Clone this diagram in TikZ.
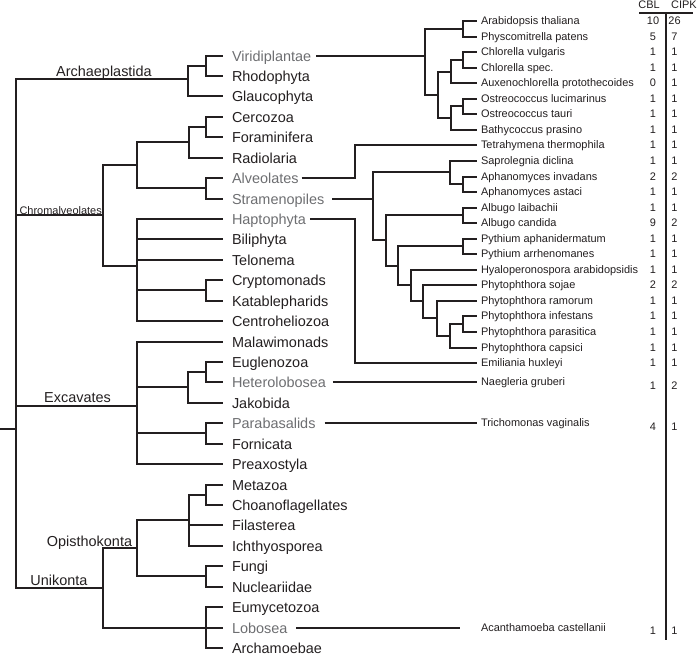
\documentclass[tikz,border=0pt]{standalone}
\usepackage{fontspec}
\setmainfont{Liberation Sans}
\definecolor{ink}{HTML}{231F20}
\definecolor{labgray}{HTML}{6D6E71}
\tikzset{
  big/.style={font=\fontsize{14.5}{17}\selectfont, inner sep=0pt, outer sep=0pt, text height=10.4pt, text depth=0pt, anchor=west, text=ink},
  sp/.style={font=\fontsize{11}{13}\selectfont, inner sep=0pt, outer sep=0pt, text height=7.9pt, text depth=0pt, anchor=west, text=ink},
  num/.style={sp, anchor=center},
  clade/.style={font=\fontsize{14.5}{17}\selectfont, inner sep=0pt, outer sep=0pt, anchor=base, text=ink},
  br/.style={line width=2.7bp, draw=ink},
  brr/.style={line width=2.1bp, draw=ink},
}
\begin{document}
\begin{tikzpicture}[x=1bp,y=-1bp]
\useasboundingbox (0,0) rectangle (697,659);

% ---- left leaf labels
\foreach \n/\t/\i/\c in {
 viri/Viridiplantae/0/labgray, rhodo/Rhodophyta/1/ink, glauco/Glaucophyta/2/ink,
 cerco/Cercozoa/3/ink, foram/Foraminifera/4/ink, radio/Radiolaria/5/ink,
 alveo/Alveolates/6/labgray, stram/Stramenopiles/7/labgray, hapto/Haptophyta/8/labgray,
 bili/Biliphyta/9/ink, telo/Telonema/10/ink, crypto/Cryptomonads/11/ink,
 kata/Katablepharids/12/ink, centro/Centroheliozoa/13/ink, malaw/Malawimonads/14/ink,
 eugl/Euglenozoa/15/ink, hetero/Heterolobosea/16/labgray, jako/Jakobida/17/ink,
 parab/Parabasalids/18/labgray, fornic/Fornicata/19/ink, preax/Preaxostyla/20/ink,
 meta/Metazoa/21/ink, choano/Choanoflagellates/22/ink, filas/Filasterea/23/ink,
 ichthy/Ichthyosporea/24/ink, fungi/Fungi/25/ink, nucle/Nucleariidae/26/ink,
 eumy/Eumycetozoa/27/ink, lobo/Lobosea/28/labgray, archam/Archamoebae/29/ink}
 { \node[big, text=\c] (\n) at (232,{round(55.5+20.43*\i)}) {\t}; }

% ---- clade labels
\node[clade] (archlab) at (104,77) {Archaeplastida};
\node[font=\fontsize{11}{13}\selectfont, inner sep=0pt, anchor=base east, text=ink] (chromlab) at (102,214) {Chromalveolates};
\node[clade] (excavlab) at (77.5,402) {Excavates};
\node[clade] (opilab) at (89.5,546.5) {Opisthokonta};
\node[clade] (unilab) at (59,585) {Unikonta};

% ---- left internal nodes
\coordinate (R0) at (0,429);
\coordinate (R) at (16,429);
\coordinate (A) at (188,79);
\coordinate (A1) at (206,66);
\coordinate (C) at (103,215);
\coordinate (C1) at (137,165);
\coordinate (C11) at (189,142);
\coordinate (C111) at (206,127);
\coordinate (C12) at (206,188);
\coordinate (C2) at (137,266);
\coordinate (C21) at (206,290);
\coordinate (E) at (137,406);
\coordinate (E1) at (188,387);
\coordinate (E11) at (206,372);
\coordinate (E2) at (206,433);
\coordinate (U) at (103,588);
\coordinate (O) at (137,548);
\coordinate (O1) at (189,520);
\coordinate (O11) at (206,495);
\coordinate (O2) at (206,576);
\coordinate (U2) at (206,628);

\draw[br] (R0) -- (R);
\foreach \p/\c in {R/A, R/C, R/E, R/U, A/A1, C/C1, C/C2, C1/C11, C1/C12, C11/C111,
  C2/C21, E/E1, E/E2, E1/E11, U/O, U/U2, O/O1, O/O2, O1/O11}
  { \draw[br] (\p) |- (\c); }
\foreach \p/\c in {A1/viri, A1/rhodo, A/glauco, C111/cerco, C111/foram, C11/radio,
  C12/alveo, C12/stram, C2/hapto, C2/bili, C2/telo, C21/crypto, C21/kata, C2/centro,
  E/malaw, E11/eugl, E11/hetero, E1/jako, E2/parab, E2/fornic, E/preax,
  O11/meta, O11/choano, O1/filas, O1/ichthy, O2/fungi, O2/nucle,
  U2/eumy, U2/lobo, U2/archam}
  { \draw[br, shorten >=9bp] (\p) |- (\c.west); }

% ---- species and counts
\foreach \n/\t/\y/\a/\b in {
 ath/Arabidopsis thaliana/21/10/26, ppa/Physcomitrella patens/37/5/7,
 cvu/Chlorella vulgaris/52/1/1, csp/Chlorella spec./68/1/1,
 apr/Auxenochlorella protothecoides/83/0/1, olu/Ostreococcus lucimarinus/99/1/1,
 ota/Ostreococcus tauri/114/1/1, bpr/Bathycoccus prasino/130/1/1,
 tth/Tetrahymena thermophila/145/1/1, sdi/Saprolegnia diclina/161/1/1,
 ain/Aphanomyces invadans/177/2/2, aas/Aphanomyces astaci/192/1/1,
 ala/Albugo laibachii/208/1/1, aca/Albugo candida/223/9/2,
 pap/Pythium aphanidermatum/239/1/1, par/Pythium arrhenomanes/254/1/1,
 hya/Hyaloperonospora arabidopsidis/270/1/1, pso/Phytophthora sojae/285/2/2,
 pra/Phytophthora ramorum/301/1/1, pin/Phytophthora infestans/316/1/1,
 ppr/Phytophthora parasitica/332/1/1, pca/Phytophthora capsici/348/1/1,
 ehu/Emiliania huxleyi/363/1/1}
 { \node[sp] (\n) at (481,\y) {\t};
   \node[num] (\n-cbl) at (653,\y) {\a};
   \node[num] (\n-cipk) at (674.5,\y) {\b}; }

\node[sp] (ngr) at (481,382) {Naegleria gruberi};
\node[num] (ngr-cbl) at (653,386) {1};
\node[num] (ngr-cipk) at (674.5,386) {2};
\node[sp] (tva) at (481,423) {Trichomonas vaginalis};
\node[num] (tva-cbl) at (653,426.5) {4};
\node[num] (tva-cipk) at (674.5,426.5) {1};
\node[sp] (acas) at (481,628) {Acanthamoeba castellanii};
\node[num] (acas-cbl) at (653,631) {1};
\node[num] (acas-cipk) at (674.5,631) {1};

% ---- header
\node[num] (cblh) at (649,5) {CBL};
\node[num] (cipkh) at (684,5) {CIPK};
\coordinate (ulL) at (639,13);
\coordinate (ulR) at (693,13);
\coordinate (sepT) at (666,13);
\coordinate (sepB) at (666,640);
\draw[ink, line width=1.7bp] (ulL) -- (ulR);
\draw[ink, line width=2.3bp] (sepT) -- (sepB);

% ---- right internal nodes
\coordinate (V) at (425,56);
\coordinate (V1) at (463,29);
\coordinate (V2) at (438,95);
\coordinate (V21) at (451,72);
\coordinate (V211) at (463,60);
\coordinate (V22) at (451,118);
\coordinate (V221) at (463,106);
\coordinate (AL) at (355,178);
\coordinate (F) at (373,199);
\coordinate (G) at (450,172);
\coordinate (G1) at (463,184);
\coordinate (H) at (386,240);
\coordinate (H1) at (463,215);
\coordinate (I) at (398,266);
\coordinate (I1) at (463,246);
\coordinate (J) at (411,285);
\coordinate (K) at (423,301);
\coordinate (Lk) at (437,318);
\coordinate (M) at (450,336);
\coordinate (M1) at (463,324);
\coordinate (HP) at (355,219);

\foreach \p/\c in {V/V1, V/V2, V2/V21, V2/V22, V21/V211, V22/V221,
  F/G, F/H, G/G1, H/H1, H/I, I/I1, I/J, J/K, K/Lk, Lk/M, M/M1}
  { \draw[brr] (\p) |- (\c); }
\foreach \p/\c in {V1/ath, V1/ppa, V211/cvu, V211/csp, V21/apr, V221/olu, V221/ota,
  V22/bpr, G/sdi, G1/ain, G1/aas, H1/ala, H1/aca, I1/pap, I1/par, J/hya, K/pso,
  Lk/pra, M1/pin, M1/ppr, M/pca}
  { \draw[brr, shorten >=4bp] (\p) |- (\c.west); }

% ---- connectors from grey clades
\draw[brr, shorten <=5bp] (viri.east) -- (V);
\draw[brr, shorten <=3bp, shorten >=4bp] (alveo.east) -- (AL) |- (tth.west);
\draw[brr, shorten <=8bp] (stram.east) -- (F);
\draw[brr, shorten <=4bp, shorten >=4bp] (hapto.east) -- (HP) |- (ehu.west);
\draw[brr, shorten <=7bp, shorten >=4bp] (hetero.east) -- (ngr.west);
\draw[brr, shorten <=9bp, shorten >=4bp] (parab.east) -- (tva.west);
\draw[brr, shorten <=9bp, shorten >=21bp] (lobo.east) -- (acas.west);
\end{tikzpicture}
\end{document}
